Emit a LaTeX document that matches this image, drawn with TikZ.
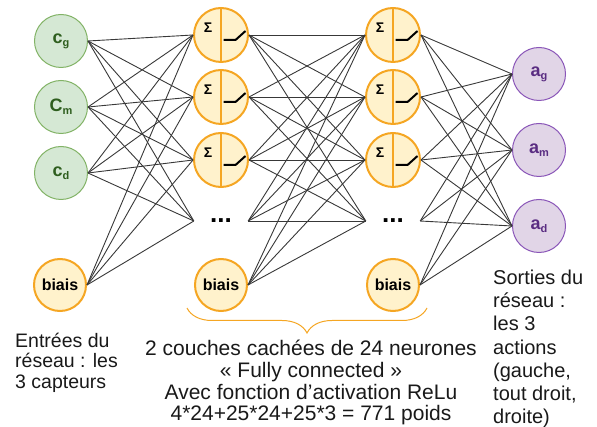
\documentclass[tikz,border=0pt]{standalone}
\usepackage{fontspec}
\setmainfont{Liberation Sans}
\usepackage{tikz}
\usetikzlibrary{bayesnet,decorations.pathreplacing}

\definecolor{ingreen}{HTML}{D5E8D4}
\definecolor{indraw}{HTML}{82B366}
\definecolor{intext}{HTML}{2E5E1E}
\definecolor{hidfill}{HTML}{FFF2CC}
\definecolor{hiddraw}{HTML}{F5A623}
\definecolor{outfill}{HTML}{E1D5E7}
\definecolor{outdraw}{HTML}{8A56B8}
\definecolor{outtext}{HTML}{5A2D82}
\definecolor{wire}{HTML}{383838}

\newcommand{\sublbl}[2]{\fontsize{18}{18}\selectfont\bfseries #1\raisebox{-3pt}{\fontsize{11}{11}\selectfont #2}}

\begin{document}
\begin{tikzpicture}[x=1pt,y=-1pt,
  inp/.style={circle,fill=ingreen,draw=indraw,line width=1pt,minimum size=53pt,inner sep=0pt,text=intext},
  outp/.style={circle,fill=outfill,draw=outdraw,line width=1pt,minimum size=53pt,inner sep=0pt,text=outtext},
  biasnode/.style={circle,fill=hidfill,draw=hiddraw,line width=2pt,minimum size=52pt,inner sep=0pt,font=\fontsize{16}{16}\selectfont\bfseries},
  neuron/.style={circle,fill=hidfill,draw=hiddraw,line width=2pt,minimum size=54pt,inner sep=0pt,
    path picture={
      \draw[hiddraw,line width=1.6pt] (path picture bounding box.north) -- (path picture bounding box.south);
      \node[font=\fontsize{14}{14}\selectfont\bfseries] at ([shift={(-13pt,7pt)}]path picture bounding box.center){Σ};
      \draw[black,line width=2pt] ([shift={(2.5pt,-5pt)}]path picture bounding box.center) -- ++(12pt,0pt) -- ++(10pt,9pt);
    }},
  skipped/.style={minimum width=54pt,inner sep=0pt,font=\fontsize{26}{26}\selectfont\bfseries},
  wires/.style={-,draw=wire,line width=0.9pt},
  txt/.style={inner sep=0pt,text=black!90}]
  \useasboundingbox (0,0) rectangle (597,427);
  % entrees
  \node[inp] (cg) at (61,41){\sublbl{c}{g}};
  \node[inp] (cm) at (61,107){\sublbl{C}{m}};
  \node[inp] (cd) at (61,173){\sublbl{c}{d}};
  \node[biasnode] (b0) at (60,285){biais};
  % couche cachee 1
  \node[neuron] (h11) at (221,35){};
  \node[neuron] (h12) at (221,97){};
  \node[neuron] (h13) at (221,160){};
  \node[skipped] (h1x) at (221,221){...};
  \node[biasnode] (b1) at (221,285){biais};
  % couche cachee 2
  \node[neuron] (h21) at (393,35){};
  \node[neuron] (h22) at (393,97){};
  \node[neuron] (h23) at (393,160){};
  \node[skipped] (h2x) at (393,221){...};
  \node[biasnode] (b2) at (393,285){biais};
  % sorties
  \node[outp] (ag) at (539,74){\sublbl{a}{g}};
  \node[outp] (am) at (539,150){\sublbl{a}{m}};
  \node[outp] (ad) at (539,226){\sublbl{a}{d}};
  \edge[wires]{cg.east,cm.east,cd.east,b0.east}{h11.west,h12.west,h13.west,h1x.west}
  \edge[wires]{h11.east,h12.east,h13.east,h1x.east,b1.east}{h21.west,h22.west,h23.west,h2x.west}
  \edge[wires]{h21.east,h22.east,h23.east,h2x.east,b2.east}{ag.west,am.west,ad.west}
  % accolade et textes
  \draw[hiddraw,line width=1pt,decorate,decoration={brace,mirror,amplitude=25pt}] (187,308) -- (427,308);
  \node[txt,anchor=north west,align=left,font=\fontsize{19.5}{20.5}\selectfont] (lin) at (15,332.5){Entrées du\\réseau : les\\3 capteurs};
  \node[txt,anchor=north,align=center,font=\fontsize{21}{21.7}\selectfont] (lmid) at (311,340){2 couches cachées de 24 neurones\\« Fully connected »\\Avec fonction d’activation ReLu\\4*24+25*24+25*3 = 771 poids};
  \node[txt,anchor=north west,align=left,font=\fontsize{20}{23.3}\selectfont] (lout) at (493,269.5){Sorties du\\réseau :\\les 3\\actions\\(gauche,\\tout droit,\\droite)};
\end{tikzpicture}
\end{document}
